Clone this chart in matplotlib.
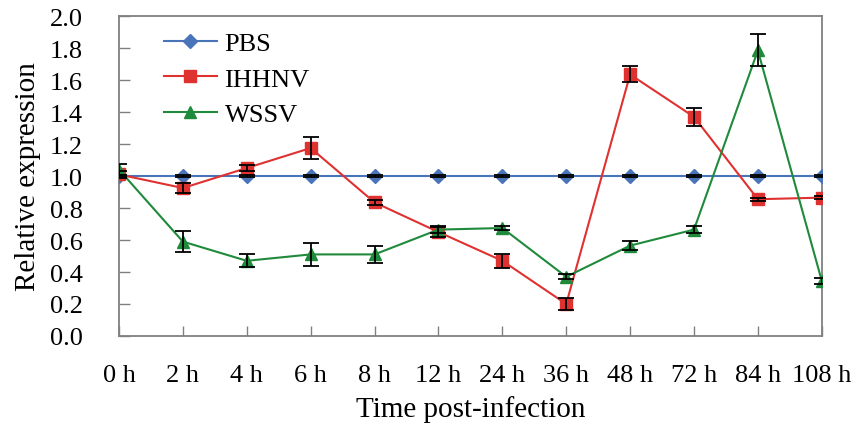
import numpy as np
import matplotlib.pyplot as plt

tiempos = ['0 h', '2 h', '4 h', '6 h', '8 h', '12 h', '24 h', '36 h', '48 h', '72 h', '84 h', '108 h']

pbs = np.array([1.0, 1.0, 1.0, 1.0, 1.0, 1.0, 1.0, 1.0, 1.0, 1.0, 1.0, 1.0])
pbs_err = np.array([0.006, 0.006, 0.006, 0.006, 0.006, 0.006, 0.006, 0.006, 0.006, 0.006, 0.006, 0.006])

ihhnv = np.array([1.01, 0.925, 1.05, 1.175, 0.835, 0.65, 0.47, 0.20, 1.635, 1.37, 0.855, 0.865])
ihhnv_err = np.array([0.02, 0.03, 0.02, 0.07, 0.015, 0.03, 0.045, 0.04, 0.05, 0.055, 0.01, 0.01])

wssv = np.array([1.04, 0.59, 0.47, 0.51, 0.51, 0.665, 0.675, 0.37, 0.565, 0.665, 1.785, 0.345])
wssv_err = np.array([0.035, 0.065, 0.04, 0.07, 0.055, 0.02, 0.01, 0.015, 0.03, 0.02, 0.10, 0.02])

fuente = 'Liberation Serif'
plt.rcParams['font.family'] = [fuente, 'DejaVu Serif']

fig = plt.figure(figsize=(8.56, 4.27), dpi=100)
ax = fig.add_axes([0.139, 0.2108, 0.821, 0.7492])

x = np.arange(len(tiempos))

series = [
    (pbs, pbs_err, 'PBS', '#4a74ba', 'D', 7.5),
    (ihhnv, ihhnv_err, 'IHHNV', '#e03131', 's', 8.5),
    (wssv, wssv_err, 'WSSV', '#1f8a3b', '^', 9),
]
for y, err, nombre, color, marca, tam in series:
    ax.plot(x, y, color=color, lw=1.5, marker=marca, ms=tam, label=nombre, zorder=3)
    ax.errorbar(x, y, yerr=err, fmt='none', ecolor='black', elinewidth=1.3,
                capsize=6, capthick=1.3, zorder=4)

ax.set_xlim(0, 11)
ax.set_ylim(0, 2.0)
ax.set_yticks(np.arange(0, 2.01, 0.2))
ax.set_yticklabels(['%.1f' % v for v in np.arange(0, 2.01, 0.2)], fontsize=19)
ax.set_xticks(x)
ax.set_xticklabels(tiempos, fontsize=19)
ax.tick_params(axis='y', direction='in', length=8, width=1, color='#808080', pad=26)
ax.tick_params(axis='x', direction='in', length=7, width=1, color='#808080', pad=20)

for lado in ['top', 'right', 'left', 'bottom']:
    ax.spines[lado].set_color('#808080')
    ax.spines[lado].set_linewidth(1.3)

ax.set_xlabel('Time post-infection', fontsize=21, labelpad=7)
ax.set_ylabel('Relative expression', fontsize=21, labelpad=6)

ax.legend(loc='upper left', bbox_to_anchor=(0.03, 1.025), frameon=False, fontsize=19,
          handlelength=2.0, labelspacing=0.45, handletextpad=0.3)

fig.savefig('out.png', dpi=100)
